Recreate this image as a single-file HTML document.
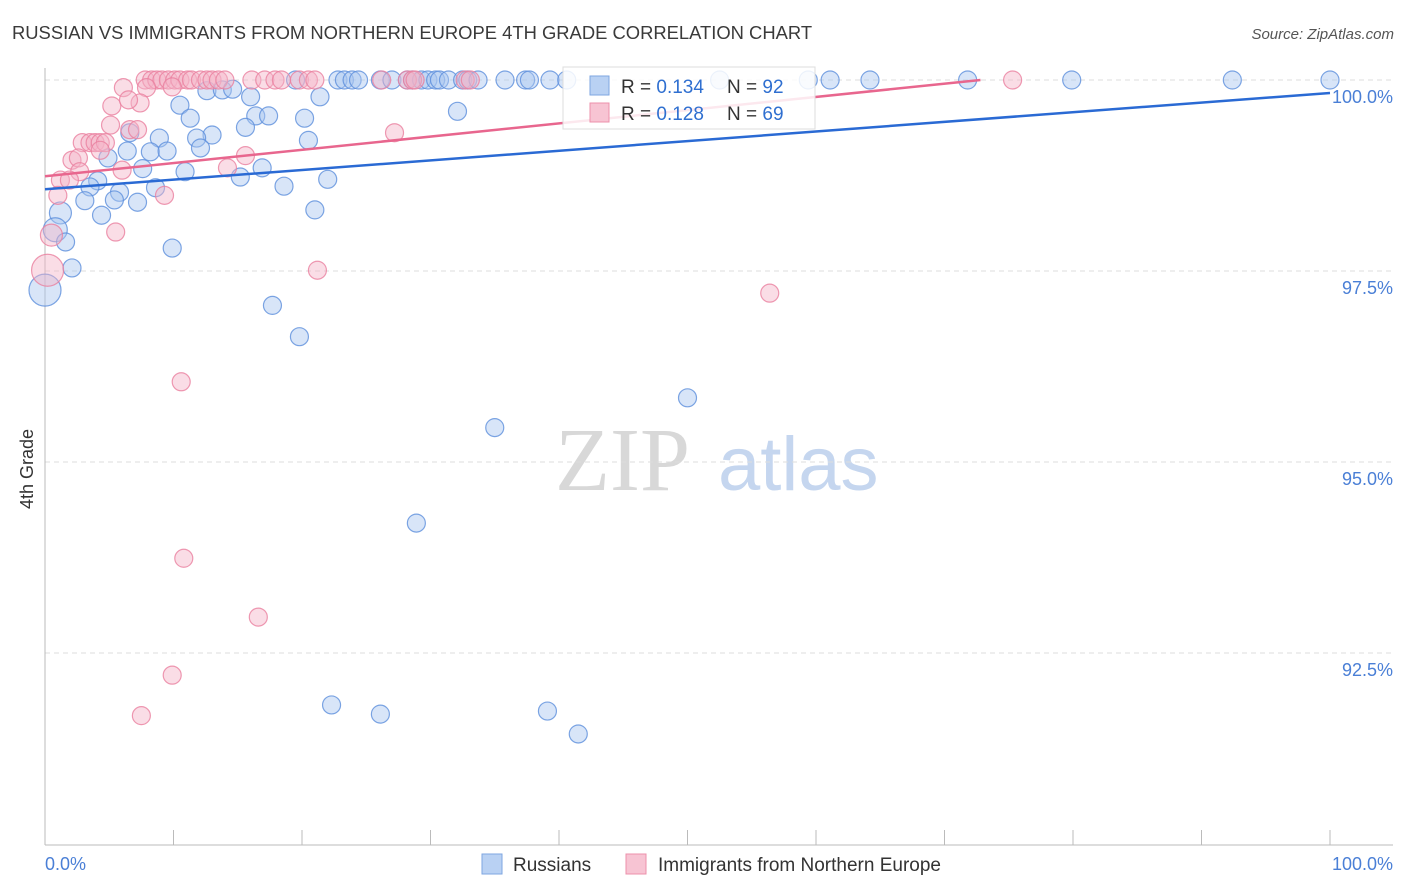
<!DOCTYPE html>
<html><head><meta charset="utf-8"><style>
body{margin:0;background:#fff;font-family:"Liberation Sans",sans-serif}
svg{display:block}
</style></head><body>
<svg width="1406" height="892" id="chart">
<text x="12" y="39" font-size="18.4" fill="#3a3a3a">RUSSIAN VS IMMIGRANTS FROM NORTHERN EUROPE 4TH GRADE CORRELATION CHART</text>
<text x="1394" y="39" font-size="15" fill="#555" font-style="italic" text-anchor="end">Source: ZipAtlas.com</text>
<g>
<text x="555" y="490" font-size="90" fill="#d8d8d8" font-family="Liberation Serif,serif">ZIP</text>
<text x="718" y="490" font-size="76" fill="#c5d6ef">atlas</text>
</g>
<g id="grid"></g>
<line x1="45" y1="68" x2="45" y2="845" stroke="#bbb"/>
<line x1="45" y1="845" x2="1393" y2="845" stroke="#bbb"/>
<g id="xticks"></g>
<text x="20" y="456" font-size="18" fill="#333" transform="rotate(-90 33 456)" text-anchor="middle">4th Grade</text>
<text x="45" y="870" font-size="18" fill="#4a7fd6">0.0%</text>
<text x="1393" y="870" font-size="18" fill="#4a7fd6" text-anchor="end">100.0%</text>
<g id="pts"></g>
<g id="trends"></g>
<g>
<rect x="563" y="67" width="252" height="62" fill="#fff" fill-opacity="0.85" stroke="#ddd"/>
<rect x="590" y="76" width="19" height="19" fill="#b9d1f3" stroke="#7ea6e0"/>
<text x="621" y="93" font-size="19" fill="#333">R = <tspan fill="#2f6fd0">0.134</tspan><tspan x="727">N = </tspan><tspan fill="#2f6fd0">92</tspan></text>
<rect x="590" y="103" width="19" height="19" fill="#f7c4d3" stroke="#ec90ab"/>
<text x="621" y="120" font-size="19" fill="#333">R = <tspan fill="#2f6fd0">0.128</tspan><tspan x="727">N = </tspan><tspan fill="#2f6fd0">69</tspan></text>
</g>
<g>
<rect x="482" y="854" width="20" height="20" fill="#b9d1f3" stroke="#7ea6e0"/>
<text x="513" y="871" font-size="19" fill="#333">Russians</text>
<rect x="626" y="854" width="20" height="20" fill="#f7c4d3" stroke="#ec90ab"/>
<text x="658" y="871" font-size="19" fill="#333">Immigrants from Northern Europe</text>
</g>
</svg>
<script>
const yTicks=[100,97.5,95,92.5];
const yTickLabels=["100.0%","97.5%","95.0%","92.5%"];
const xTicks=[0,10,20,30,40,50,60,70,80,90,100];
const russians=[[19.5,100],[22.8,100],[23.3,100],[23.9,100],[24.4,100],[26.1,100],[27.0,100],[28.2,100],[28.6,100],[29.3,100],[29.8,100],[30.4,100],[30.7,100],[31.4,100],[32.5,100],[32.9,100],[33.7,100],[35.8,100],[37.4,100],[37.7,100],[39.3,100],[40.6,100],[52.5,100],[59.4,100],[61.1,100],[64.2,100],[71.8,100],[79.9,100],[92.4,100],[100,100],
[12.6,99.86],[13.8,99.87],[14.6,99.88],[16.0,99.78],[10.5,99.67],[21.4,99.78],[32.1,99.59],[11.3,99.5],[16.4,99.53],[17.4,99.53],[20.2,99.5],[15.6,99.38],[13.0,99.28],[11.8,99.24],[8.9,99.24],[20.5,99.21],[6.6,99.31],[4.9,98.98],[6.4,99.07],[8.2,99.06],[9.5,99.07],[12.1,99.11],[7.6,98.84],[10.9,98.8],[15.2,98.73],[16.9,98.85],[22.0,98.7],[18.6,98.61],[4.1,98.68],[3.5,98.6],[5.8,98.53],[8.6,98.59],[3.1,98.42],[5.4,98.43],[7.2,98.4],[4.4,98.23],[1.2,98.26,11],[21.0,98.3],[0.8,98.04,12],[1.6,97.88],[9.9,97.8],[2.1,97.54],[0,97.25,16],[17.7,97.05],[19.8,96.64],[50.0,95.84],[35.0,95.45],[28.9,94.2],[22.3,91.82],[26.1,91.7],[39.1,91.74],[41.5,91.44]];
const immigrants=[[7.8,100],[8.3,100],[8.7,100],[9.1,100],[9.6,100],[10.1,100],[10.5,100],[11.1,100],[11.4,100],[12.1,100],[12.6,100],[13.0,100],[13.5,100],[14.0,100],[16.1,100],[17.1,100],[17.9,100],[18.4,100],[19.8,100],[20.5,100],[21.0,100],[26.2,100],[28.2,100],[28.6,100],[28.8,100],[32.7,100],[33.1,100],[75.3,100],
[6.1,99.9],[9.9,99.91],[7.9,99.9],[5.2,99.66],[7.4,99.7],[6.5,99.74],[5.1,99.41],[6.6,99.35],[7.2,99.35],[2.9,99.18],[3.5,99.18],[3.9,99.18],[4.3,99.18],[4.7,99.18],[2.1,98.95],[2.6,98.98],[4.3,99.08],[6.0,98.82],[2.7,98.8],[1.2,98.69],[1.9,98.69],[1.0,98.49],[9.3,98.49],[14.2,98.85],[15.6,99.01],[27.2,99.31],[5.5,98.01],[0.5,97.97,11],[0.2,97.51,16],[21.2,97.51],[56.4,97.21],[10.6,96.05],[10.8,93.74],[16.6,92.97],[9.9,92.21],[7.5,91.68]];
const russiansTrend=[[0,98.57],[100,99.83]];
const immigrantsTrend=[[0,98.74],[72.8,100]];
const NS="http://www.w3.org/2000/svg";
const X=v=>45+v*12.85, Y=v=>80+(100-v)*76.4;
function mk(t,a,p){const e=document.createElementNS(NS,t);for(const k in a)e.setAttribute(k,a[k]);p.appendChild(e);return e;}
const grid=document.getElementById('grid');
yTicks.forEach((t,i)=>{
 const l=mk('line',{x1:45,x2:1393,y1:Y(t),y2:Y(t),stroke:'#ddd','stroke-dasharray':'5,4'},grid);
 
 
 const tx=mk('text',{x:1393,y:Y(t)+23,'font-size':18,fill:'#4a7fd6','text-anchor':'end'},grid);
 tx.textContent=yTickLabels[i];
 
 
});
const xt=document.getElementById('xticks');
xTicks.forEach(t=>{
 const l=mk('line',{x1:X(t),x2:X(t),y1:830,y2:845,stroke:'#bbb'},xt);
 
 
});
const pts=document.getElementById('pts');
function drawSeries(arr,fill,stroke,name){
 arr.forEach(p=>{
  const c=mk('circle',{cx:X(p[0]),cy:Y(p[1]),r:p[2]||9,fill:fill,'fill-opacity':0.45,stroke:stroke,'stroke-width':1.2,'stroke-opacity':0.8},pts);
  
  
 });
}
drawSeries(russians,'#a9c6f0','#5d8fdc','russians-point');
drawSeries(immigrants,'#f5b3c7','#ea7f9f','immigrants-point');
const tr=document.getElementById('trends');
const l1=mk('line',{x1:X(russiansTrend[0][0]),y1:Y(russiansTrend[0][1]),x2:X(russiansTrend[1][0]),y2:Y(russiansTrend[1][1]),stroke:'#2a6ad4','stroke-width':2.5},tr);


const l2=mk('line',{x1:X(immigrantsTrend[0][0]),y1:Y(immigrantsTrend[0][1]),x2:X(immigrantsTrend[1][0]),y2:Y(immigrantsTrend[1][1]),stroke:'#e8668e','stroke-width':2.5},tr);


</script>
</body></html>
